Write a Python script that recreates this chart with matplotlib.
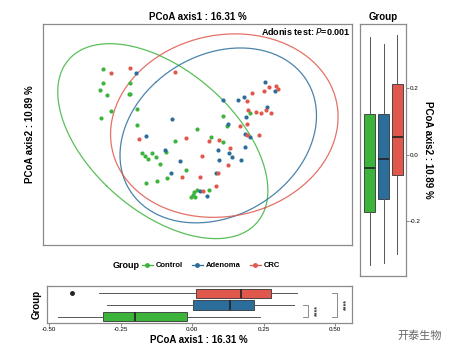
import numpy as np
import matplotlib
matplotlib.use('Agg')
import matplotlib.pyplot as plt
from matplotlib.lines import Line2D

plt.rcParams['font.family'] = ['Liberation Sans', 'DejaVu Sans']

groups = ['Control', 'Adenoma', 'CRC']
colors = ['#3CB43C', '#2B6E9C', '#E0584C']

# PCoA scores
control_x = [-0.461, -0.461, -0.475, -0.442, -0.338, -0.332, -0.332, -0.299, -0.423, -0.469,
             -0.298, -0.275, -0.261, -0.249, -0.227, -0.208, -0.191, -0.162, -0.118, -0.017,
             -0.067, -0.156, -0.203, -0.258, 0.050, 0.108, 0.127, 0.108, 0.233, 0.043,
             -0.018, -0.029, -0.036, -0.044, -0.024]
control_y = [0.352, 0.278, 0.240, 0.213, 0.217, 0.217, 0.279, 0.140, 0.128, 0.089,
             0.055, -0.095, -0.111, -0.130, -0.098, -0.117, -0.157, -0.093, -0.033, 0.029,
             -0.188, -0.229, -0.247, -0.256, -0.009, 0.100, 0.048, -0.038, 0.117, -0.295,
             -0.293, -0.308, -0.321, -0.330, -0.330]
adenoma_x = [-0.302, -0.135, -0.257, -0.168, -0.095, -0.139, 0.129, 0.082, 0.135, 0.149,
             0.089, 0.190, 0.210, 0.072, -0.001, 0.030, 0.210, 0.232, 0.217, 0.303,
             0.353, 0.107, 0.176, 0.204, 0.316]
adenoma_y = [0.333, 0.087, -0.004, -0.079, -0.139, -0.202, 0.058, -0.079, -0.095, -0.117,
             -0.134, -0.133, -0.066, -0.205, -0.301, -0.325, 0.006, -0.012, 0.094, 0.283,
             0.236, 0.187, 0.185, 0.201, 0.148]
crc_x = [-0.422, -0.331, -0.120, -0.291, -0.069, -0.088, -0.004, 0.042, 0.089, 0.141,
         0.008, 0.132, 0.084, 0.076, 0.014, 0.189, 0.218, 0.278, 0.221, 0.245,
         0.218, 0.300, 0.322, 0.358, 0.366, 0.223, 0.261, 0.287, 0.308, 0.332]
crc_y = [0.333, 0.359, 0.338, -0.024, -0.017, -0.224, -0.227, -0.034, -0.026, -0.072,
         -0.111, -0.161, -0.202, -0.275, -0.300, 0.050, 0.058, 0.001, -0.002, 0.222,
         0.183, 0.236, 0.256, 0.261, 0.244, 0.132, 0.122, 0.116, 0.132, 0.117]

# boxplot summaries (Control, Adenoma, CRC)
ax1_lo = [-0.471, -0.297, -0.326]
ax1_q1 = [-0.313, 0.001, 0.014]
ax1_med = [-0.199, 0.131, 0.169]
ax1_q3 = [-0.017, 0.215, 0.276]
ax1_hi = [0.237, 0.357, 0.365]
ax1_out = [[], [], [-0.420]]

ax2_lo = [-0.333, -0.325, -0.300]
ax2_q1 = [-0.173, -0.134, -0.061]
ax2_med = [-0.040, -0.013, 0.053]
ax2_q3 = [0.122, 0.122, 0.214]
ax2_hi = [0.354, 0.333, 0.360]

xs = [control_x, adenoma_x, crc_x]
ys = [control_y, adenoma_y, crc_y]


def t_ellipse(x, y, level=0.95, n_seg=200):
    # 95% ellipse like stat_ellipse, F-based radius
    x = np.asarray(x)
    y = np.asarray(y)
    n = len(x)
    center = np.array([x.mean(), y.mean()])
    cov = np.cov(x, y)
    d = n - 1
    fq = d / 2 * ((1 - level) ** (-2 / d) - 1)
    r = np.sqrt(2 * fq)
    vals, vecs = np.linalg.eigh(cov)
    t = np.linspace(0, 2 * np.pi, n_seg)
    circ = np.vstack([np.cos(t), np.sin(t)])
    pts = vecs @ (np.sqrt(vals)[:, None] * circ) * r
    return center[0] + pts[0], center[1] + pts[1]


fig = plt.figure(figsize=(4.55, 3.56), dpi=100)
frame_col = '#8a8a8a'

# main scatter
ax = fig.add_axes([0.0952, 0.3118, 0.679, 0.6208])
for gx, gy, c in zip(xs, ys, colors):
    ex, ey = t_ellipse(gx, gy)
    ax.plot(ex, ey, color=c, lw=0.9, alpha=0.85)
for gx, gy, c in zip(xs, ys, colors):
    ax.scatter(gx, gy, s=9, color=c, linewidths=0, zorder=3)
ax.set_xlim(-0.741, 0.7165)
ax.set_ylim(-0.589, 0.593)
ax.set_xticks([])
ax.set_yticks([])
for sp in ax.spines.values():
    sp.set_color(frame_col)
    sp.set_linewidth(0.9)
ax.set_title('PCoA axis1 : 16.31 %', fontsize=7, fontweight='bold', pad=3)
ax.set_ylabel('PCoA axis2 : 10.89 %', fontsize=7, fontweight='bold', labelpad=6)
ax.text(0.995, 0.99, r'Adonis test: $\bf{\it{P}}$=0.001', transform=ax.transAxes,
        ha='right', va='top', fontsize=6.5, fontweight='bold')

box_kw = dict(patch_artist=True, showcaps=False, widths=0.78,
              whiskerprops=dict(color='#555555', lw=0.7),
              medianprops=dict(color='#222222', lw=1.2),
              boxprops=dict(edgecolor='#333333', lw=0.6),
              flierprops=dict(marker='o', markersize=2.5, markerfacecolor='#222222',
                              markeredgecolor='#222222'))

# right boxplot (axis2)
axr = fig.add_axes([0.7919, 0.2247, 0.0998, 0.7079])
stats2 = []
for i in range(3):
    stats2.append(dict(whislo=ax2_lo[i], q1=ax2_q1[i], med=ax2_med[i],
                       q3=ax2_q3[i], whishi=ax2_hi[i], fliers=[]))
bp = axr.bxp(stats2, positions=[1, 2, 3], **box_kw)
for patch, c in zip(bp['boxes'], colors):
    patch.set_facecolor(c)
axr.set_xlim(0.33, 3.6)
axr.set_ylim(-0.365, 0.394)
axr.set_xticks([])
axr.yaxis.tick_right()
axr.yaxis.set_label_position('right')
axr.set_yticks([-0.2, 0.0, 0.2])
axr.set_yticklabels(['-0.2', '0.0', '0.2'])
axr.tick_params(axis='y', labelsize=4.5, length=2, width=0.5, pad=1, color='#555555')
axr.set_ylabel('PCoA axis2 : 10.89 %', fontsize=7, fontweight='bold', rotation=-90,
               labelpad=9)
axr.set_title('Group', fontsize=7, fontweight='bold', pad=3)
for sp in axr.spines.values():
    sp.set_color(frame_col)
    sp.set_linewidth(0.9)

# bottom boxplot (axis1)
axb = fig.add_axes([0.1026, 0.0919, 0.6703, 0.1048])
stats1 = []
for i in range(3):
    stats1.append(dict(whislo=ax1_lo[i], q1=ax1_q1[i], med=ax1_med[i],
                       q3=ax1_q3[i], whishi=ax1_hi[i], fliers=ax1_out[i]))
bp = axb.bxp(stats1, positions=[1, 2, 3], orientation='horizontal', **box_kw)
for patch, c in zip(bp['boxes'], colors):
    patch.set_facecolor(c)
axb.set_xlim(-0.509, 0.557)
axb.set_ylim(0.44, 3.62)
axb.set_yticks([])
axb.set_xticks([-0.5, -0.25, 0.0, 0.25, 0.5])
axb.set_xticklabels(['-0.50', '-0.25', '0.00', '0.25', '0.50'])
axb.tick_params(axis='x', labelsize=4.5, length=2, width=0.5, pad=1, color='#555555')
axb.set_xlabel('PCoA axis1 : 16.31 %', fontsize=7, fontweight='bold', labelpad=2)
axb.set_ylabel('Group', fontsize=7, fontweight='bold', labelpad=4)
for sp in axb.spines.values():
    sp.set_color(frame_col)
    sp.set_linewidth(0.9)

# significance brackets
brackets = [(1, 2, 0.405, 0.437), (1, 3, 0.507, 0.540)]
for y0, y1, xb, xt in brackets:
    axb.plot([xb - 0.018, xb, xb, xb - 0.018], [y0, y0, y1, y1], color='#777777', lw=0.6,
             clip_on=False)
    axb.text(xt, (y0 + y1) / 2, '****', rotation=90, ha='center', va='center',
             fontsize=5, color='#333333', fontweight='bold')

# legend
handles = [Line2D([], [], color=c, marker='o', markersize=2.5, lw=0.9) for c in colors]
fig.text(113 / 455, 1 - 265.7 / 356, 'Group', fontsize=6.5, fontweight='bold',
         ha='left', va='center')
fig.legend(handles, groups, loc='center left', bbox_to_anchor=(142 / 455, 1 - 265.7 / 356),
           ncol=3, frameon=False, prop=dict(size=5.5, weight='bold'), handlelength=1.4,
           columnspacing=1.2, handletextpad=0.4, borderaxespad=0, borderpad=0)

# watermark
fig.text(420 / 455, 1 - 336 / 356, '开泰生物', fontsize=8, color='#666666',
         ha='center', va='center', family=['Noto Sans CJK SC', 'DejaVu Sans'])

fig.savefig('out.png', dpi=100)
